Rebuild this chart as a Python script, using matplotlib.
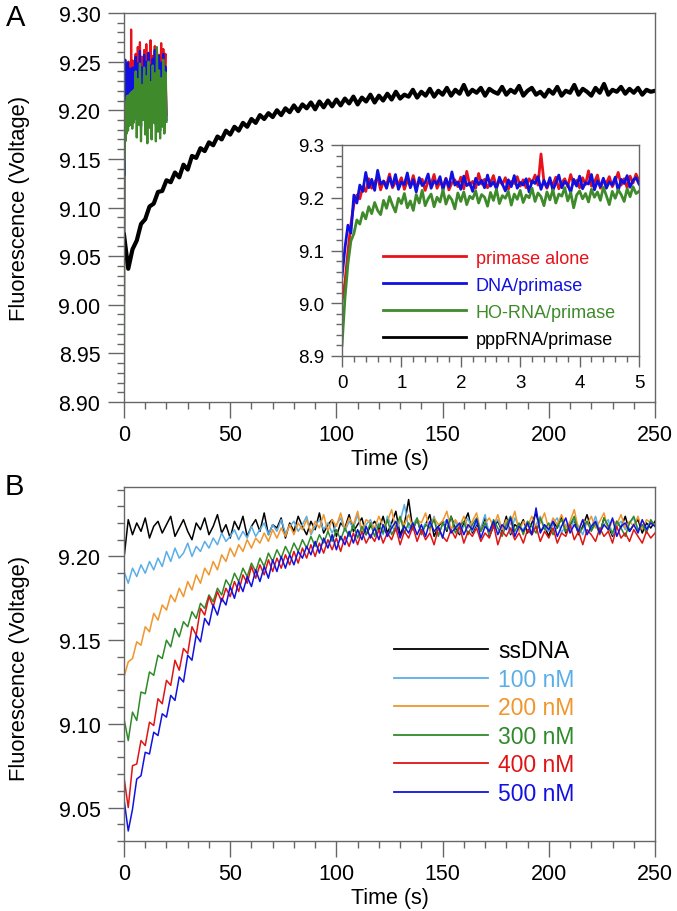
import numpy as np
import matplotlib
matplotlib.use('Agg')
import matplotlib.pyplot as plt
from matplotlib.lines import Line2D
from matplotlib.ticker import MultipleLocator, FormatStrFormatter

plt.rcParams['font.family'] = ['Liberation Sans', 'DejaVu Sans']

# time bases (s)
t_slow = np.arange(0, 251, 2)
t_fast = np.round(np.arange(0, 5.001, 0.05), 2)
t_tail = np.arange(5.5, 20.01, 0.5)

# ---- panel A ----
ppp_rna = [
    9.072, 9.037, 9.057, 9.066, 9.083, 9.088, 9.101, 9.104, 9.116, 9.117,
    9.128, 9.126, 9.136, 9.131, 9.144, 9.139, 9.153, 9.151, 9.161, 9.158,
    9.167, 9.164, 9.173, 9.170, 9.179, 9.175, 9.183, 9.179, 9.187, 9.183,
    9.191, 9.187, 9.195, 9.191, 9.197, 9.193, 9.200, 9.195, 9.202, 9.198,
    9.205, 9.199, 9.206, 9.202, 9.208, 9.201, 9.209, 9.203, 9.210, 9.204,
    9.211, 9.205, 9.212, 9.207, 9.214, 9.206, 9.213, 9.209, 9.216, 9.208,
    9.215, 9.210, 9.217, 9.211, 9.219, 9.212, 9.216, 9.214, 9.221, 9.213,
    9.219, 9.215, 9.222, 9.214, 9.220, 9.216, 9.223, 9.215, 9.221, 9.217,
    9.226, 9.216, 9.221, 9.218, 9.223, 9.215, 9.222, 9.219, 9.217, 9.224,
    9.216, 9.221, 9.218, 9.225, 9.215, 9.220, 9.223, 9.216, 9.219, 9.214,
    9.221, 9.217, 9.224, 9.215, 9.220, 9.218, 9.226, 9.216, 9.222, 9.219,
    9.215, 9.223, 9.218, 9.227, 9.216, 9.221, 9.219, 9.224, 9.217, 9.222,
    9.218, 9.223, 9.216, 9.221, 9.219, 9.220]

primase_alone_fast = [
    9.003, 9.040, 9.098, 9.150, 9.188, 9.205, 9.198, 9.221, 9.212, 9.236,
    9.218, 9.229, 9.240, 9.215, 9.232, 9.224, 9.245, 9.219, 9.230, 9.226,
    9.238, 9.216, 9.233, 9.222, 9.242, 9.220, 9.229, 9.235, 9.214, 9.231,
    9.225, 9.244, 9.218, 9.230, 9.222, 9.237, 9.215, 9.228, 9.234, 9.221,
    9.239, 9.217, 9.250, 9.224, 9.231, 9.218, 9.246, 9.226, 9.235, 9.219,
    9.229, 9.242, 9.220, 9.233, 9.225, 9.238, 9.216, 9.231, 9.227, 9.240,
    9.222, 9.234, 9.219, 9.236, 9.228, 9.243, 9.224, 9.283, 9.230, 9.218,
    9.232, 9.225, 9.239, 9.217, 9.229, 9.236, 9.221, 9.244, 9.226, 9.233,
    9.219, 9.238, 9.225, 9.251, 9.222, 9.230, 9.243, 9.218, 9.234, 9.227,
    9.240, 9.221, 9.232, 9.248, 9.224, 9.236, 9.219, 9.241, 9.228, 9.245,
    9.232]
primase_alone_tail = [
    9.258, 9.212, 9.265, 9.225, 9.270, 9.205, 9.255, 9.230, 9.262, 9.215,
    9.268, 9.208, 9.259, 9.236, 9.272, 9.210, 9.256, 9.222, 9.266, 9.203,
    9.261, 9.228, 9.257, 9.214, 9.269, 9.206, 9.263, 9.233, 9.258, 9.195]

dna_primase_fast = [
    9.050, 9.105, 9.148, 9.133, 9.205, 9.190, 9.224, 9.212, 9.248, 9.219,
    9.235, 9.214, 9.252, 9.226, 9.231, 9.218, 9.239, 9.222, 9.244, 9.216,
    9.230, 9.225, 9.247, 9.219, 9.234, 9.211, 9.238, 9.223, 9.229, 9.245,
    9.218, 9.232, 9.226, 9.240, 9.215, 9.236, 9.221, 9.249, 9.224, 9.230,
    9.216, 9.241, 9.223, 9.228, 9.212, 9.237, 9.225, 9.233, 9.219, 9.243,
    9.222, 9.230, 9.217, 9.239, 9.226, 9.213, 9.234, 9.221, 9.242, 9.218,
    9.229, 9.224, 9.236, 9.211, 9.232, 9.227, 9.240, 9.216, 9.233, 9.220,
    9.238, 9.214, 9.228, 9.243, 9.219, 9.231, 9.225, 9.210, 9.235, 9.222,
    9.241, 9.217, 9.229, 9.226, 9.244, 9.215, 9.232, 9.221, 9.237, 9.218,
    9.230, 9.224, 9.239, 9.213, 9.235, 9.227, 9.242, 9.220, 9.233, 9.238,
    9.226]
dna_primase_tail = [
    9.255, 9.190, 9.248, 9.202, 9.261, 9.183, 9.244, 9.196, 9.257, 9.178,
    9.250, 9.205, 9.259, 9.188, 9.246, 9.176, 9.253, 9.199, 9.262, 9.185,
    9.241, 9.193, 9.256, 9.179, 9.249, 9.203, 9.258, 9.184, 9.245, 9.190]

ho_rna_primase_fast = [
    8.920, 9.010, 9.075, 9.118, 9.132, 9.158, 9.150, 9.172, 9.160, 9.183,
    9.170, 9.191, 9.176, 9.168, 9.195, 9.180, 9.202, 9.186, 9.173, 9.199,
    9.189, 9.208, 9.181, 9.194, 9.176, 9.206, 9.190, 9.214, 9.185, 9.198,
    9.207, 9.183, 9.201, 9.192, 9.215, 9.188, 9.204, 9.196, 9.179, 9.209,
    9.193, 9.211, 9.187, 9.203, 9.198, 9.213, 9.190, 9.206, 9.201, 9.184,
    9.210, 9.195, 9.216, 9.189, 9.204, 9.199, 9.212, 9.186, 9.207, 9.197,
    9.214, 9.191, 9.205, 9.200, 9.218, 9.193, 9.209, 9.202, 9.185, 9.211,
    9.196, 9.215, 9.190, 9.207, 9.203, 9.219, 9.194, 9.210, 9.181, 9.205,
    9.213, 9.198, 9.208, 9.192, 9.216, 9.201, 9.211, 9.195, 9.220, 9.204,
    9.187, 9.212, 9.199, 9.215, 9.206, 9.193, 9.217, 9.202, 9.221, 9.208,
    9.212]
ho_rna_primase_tail = [
    9.240, 9.172, 9.232, 9.185, 9.248, 9.168, 9.226, 9.190, 9.244, 9.175,
    9.235, 9.166, 9.250, 9.182, 9.229, 9.170, 9.246, 9.187, 9.238, 9.168,
    9.265, 9.178, 9.241, 9.171, 9.233, 9.183, 9.252, 9.176, 9.239, 9.188]

labels_a = ['primase alone', 'DNA/primase', 'HO-RNA/primase', 'pppRNA/primase']
colors_a = ['#e8121a', '#1010e0', '#3f8a2a', '#000000']

# ---- panel B ----
ssdna = [
    9.199, 9.222, 9.213, 9.220, 9.215, 9.223, 9.211, 9.218, 9.221, 9.214,
    9.219, 9.224, 9.212, 9.217, 9.222, 9.215, 9.210, 9.220, 9.216, 9.223,
    9.213, 9.218, 9.225, 9.214, 9.219, 9.211, 9.221, 9.216, 9.224, 9.212,
    9.218, 9.222, 9.215, 9.226, 9.213, 9.219, 9.217, 9.223, 9.211, 9.220,
    9.215, 9.224, 9.218, 9.213, 9.221, 9.216, 9.226, 9.214, 9.219, 9.222,
    9.212, 9.220, 9.217, 9.225, 9.215, 9.219, 9.223, 9.213, 9.218, 9.221,
    9.216, 9.224, 9.214, 9.220, 9.227, 9.213, 9.219, 9.234, 9.216, 9.222,
    9.214, 9.219, 9.225, 9.212, 9.218, 9.221, 9.215, 9.224, 9.217, 9.213,
    9.220, 9.226, 9.214, 9.219, 9.216, 9.223, 9.212, 9.218, 9.221, 9.215,
    9.224, 9.213, 9.219, 9.217, 9.222, 9.214, 9.220, 9.226, 9.215, 9.218,
    9.212, 9.221, 9.217, 9.224, 9.214, 9.219, 9.222, 9.213, 9.218, 9.225,
    9.216, 9.220, 9.214, 9.223, 9.218, 9.212, 9.221, 9.217, 9.224, 9.215,
    9.219, 9.222, 9.214, 9.220, 9.217, 9.221]

nm100 = [
    9.191, 9.184, 9.193, 9.188, 9.195, 9.190, 9.197, 9.192, 9.199, 9.194,
    9.203, 9.197, 9.205, 9.199, 9.202, 9.208, 9.200, 9.206, 9.203, 9.209,
    9.205, 9.211, 9.207, 9.214, 9.209, 9.212, 9.216, 9.210, 9.215, 9.211,
    9.218, 9.212, 9.216, 9.220, 9.213, 9.219, 9.215, 9.222, 9.214, 9.218,
    9.221, 9.215, 9.219, 9.224, 9.213, 9.218, 9.222, 9.216, 9.220, 9.214,
    9.219, 9.223, 9.215, 9.221, 9.217, 9.225, 9.214, 9.219, 9.222, 9.216,
    9.220, 9.213, 9.224, 9.218, 9.215, 9.221, 9.231, 9.217, 9.219, 9.223,
    9.215, 9.220, 9.217, 9.224, 9.213, 9.219, 9.222, 9.216, 9.221, 9.214,
    9.218, 9.223, 9.215, 9.220, 9.217, 9.225, 9.213, 9.219, 9.222, 9.216,
    9.220, 9.214, 9.223, 9.218, 9.216, 9.221, 9.213, 9.219, 9.224, 9.217,
    9.215, 9.220, 9.223, 9.214, 9.219, 9.216, 9.222, 9.218, 9.213, 9.221,
    9.217, 9.224, 9.215, 9.219, 9.222, 9.213, 9.218, 9.221, 9.216, 9.220,
    9.223, 9.215, 9.219, 9.217, 9.221, 9.218]

nm200 = [
    9.128, 9.137, 9.139, 9.149, 9.147, 9.158, 9.155, 9.166, 9.162, 9.171,
    9.168, 9.177, 9.173, 9.181, 9.176, 9.185, 9.180, 9.189, 9.184, 9.193,
    9.189, 9.197, 9.192, 9.201, 9.197, 9.205, 9.200, 9.207, 9.203, 9.210,
    9.205, 9.211, 9.208, 9.214, 9.209, 9.216, 9.211, 9.217, 9.212, 9.219,
    9.213, 9.220, 9.216, 9.222, 9.214, 9.221, 9.217, 9.225, 9.215, 9.222,
    9.218, 9.226, 9.216, 9.223, 9.219, 9.227, 9.215, 9.222, 9.220, 9.217,
    9.224, 9.218, 9.221, 9.228, 9.216, 9.223, 9.219, 9.225, 9.217, 9.222,
    9.220, 9.226, 9.215, 9.223, 9.219, 9.221, 9.227, 9.216, 9.222, 9.218,
    9.224, 9.217, 9.221, 9.226, 9.215, 9.220, 9.223, 9.218, 9.225, 9.216,
    9.222, 9.219, 9.227, 9.215, 9.221, 9.218, 9.224, 9.217, 9.220, 9.226,
    9.216, 9.223, 9.219, 9.225, 9.217, 9.221, 9.228, 9.216, 9.222, 9.219,
    9.224, 9.217, 9.221, 9.226, 9.215, 9.222, 9.219, 9.225, 9.217, 9.221,
    9.218, 9.224, 9.216, 9.222, 9.220, 9.219]

nm300 = [
    9.103, 9.090, 9.107, 9.102, 9.119, 9.118, 9.131, 9.129, 9.141, 9.139,
    9.150, 9.146, 9.157, 9.152, 9.161, 9.158, 9.167, 9.163, 9.172, 9.169,
    9.177, 9.173, 9.181, 9.177, 9.186, 9.182, 9.190, 9.185, 9.193, 9.188,
    9.196, 9.191, 9.199, 9.194, 9.202, 9.197, 9.204, 9.199, 9.206, 9.201,
    9.208, 9.203, 9.210, 9.205, 9.212, 9.206, 9.213, 9.208, 9.215, 9.209,
    9.216, 9.210, 9.217, 9.212, 9.219, 9.211, 9.218, 9.213, 9.220, 9.212,
    9.219, 9.214, 9.222, 9.213, 9.218, 9.224, 9.214, 9.220, 9.216, 9.223,
    9.213, 9.219, 9.217, 9.222, 9.212, 9.220, 9.216, 9.224, 9.214, 9.218,
    9.221, 9.213, 9.219, 9.223, 9.215, 9.220, 9.214, 9.222, 9.217, 9.212,
    9.219, 9.224, 9.215, 9.220, 9.213, 9.221, 9.218, 9.214, 9.223, 9.216,
    9.220, 9.213, 9.218, 9.222, 9.215, 9.219, 9.224, 9.214, 9.217, 9.221,
    9.215, 9.220, 9.213, 9.223, 9.218, 9.214, 9.221, 9.217, 9.212, 9.220,
    9.224, 9.216, 9.219, 9.214, 9.222, 9.218]

nm400 = [
    9.068, 9.050, 9.075, 9.076, 9.090, 9.087, 9.101, 9.099, 9.115, 9.112,
    9.126, 9.123, 9.138, 9.132, 9.145, 9.142, 9.158, 9.153, 9.169, 9.165,
    9.176, 9.170, 9.179, 9.173, 9.181, 9.176, 9.185, 9.179, 9.189, 9.184,
    9.194, 9.187, 9.195, 9.189, 9.198, 9.191, 9.199, 9.193, 9.201, 9.195,
    9.203, 9.196, 9.205, 9.199, 9.207, 9.200, 9.208, 9.202, 9.210, 9.204,
    9.211, 9.203, 9.212, 9.206, 9.214, 9.207, 9.215, 9.208, 9.213, 9.209,
    9.216, 9.208, 9.214, 9.210, 9.217, 9.207, 9.215, 9.211, 9.218, 9.209,
    9.216, 9.210, 9.214, 9.207, 9.217, 9.212, 9.209, 9.216, 9.211, 9.218,
    9.208, 9.215, 9.212, 9.217, 9.209, 9.214, 9.211, 9.219, 9.207, 9.215,
    9.212, 9.217, 9.210, 9.214, 9.208, 9.216, 9.213, 9.218, 9.209, 9.215,
    9.211, 9.217, 9.208, 9.214, 9.212, 9.219, 9.210, 9.215, 9.207, 9.216,
    9.213, 9.209, 9.217, 9.212, 9.215, 9.208, 9.218, 9.211, 9.214, 9.209,
    9.216, 9.212, 9.208, 9.215, 9.211, 9.214]

nm500 = [
    9.055, 9.036, 9.049, 9.067, 9.069, 9.083, 9.082, 9.095, 9.093, 9.106,
    9.104, 9.117, 9.114, 9.128, 9.125, 9.141, 9.138, 9.153, 9.149, 9.163,
    9.159, 9.171, 9.165, 9.175, 9.171, 9.182, 9.175, 9.185, 9.179, 9.188,
    9.182, 9.192, 9.185, 9.194, 9.187, 9.198, 9.191, 9.200, 9.193, 9.201,
    9.195, 9.203, 9.199, 9.206, 9.201, 9.209, 9.202, 9.211, 9.205, 9.213,
    9.204, 9.212, 9.207, 9.215, 9.208, 9.216, 9.210, 9.218, 9.211, 9.217,
    9.210, 9.219, 9.212, 9.217, 9.221, 9.211, 9.218, 9.214, 9.220, 9.213,
    9.219, 9.212, 9.221, 9.215, 9.218, 9.211, 9.222, 9.214, 9.217, 9.220,
    9.213, 9.219, 9.216, 9.222, 9.211, 9.218, 9.215, 9.221, 9.213, 9.219,
    9.216, 9.223, 9.212, 9.218, 9.215, 9.220, 9.213, 9.229, 9.214, 9.219,
    9.216, 9.221, 9.212, 9.218, 9.223, 9.214, 9.219, 9.215, 9.222, 9.213,
    9.218, 9.221, 9.214, 9.219, 9.216, 9.223, 9.212, 9.218, 9.220, 9.215,
    9.219, 9.214, 9.222, 9.216, 9.220, 9.218]

labels_b = ['ssDNA', '100 nM', '200 nM', '300 nM', '400 nM', '500 nM']
colors_b = ['#000000', '#5aaee8', '#f0962c', '#2f8a2a', '#e01414', '#1212e0']

spine_col = '#666666'


def style_axes(ax, major_len, minor_len, labelsize, xpad, ypad):
    for s in ax.spines.values():
        s.set_color(spine_col)
        s.set_linewidth(1.0)
    ax.tick_params(which='both', direction='out', top=False, right=False,
                   color=spine_col, width=1.0, labelsize=labelsize)
    ax.tick_params(which='major', length=major_len)
    ax.tick_params(which='minor', length=minor_len)
    ax.tick_params(axis='x', which='major', pad=xpad)
    ax.tick_params(axis='y', which='major', pad=ypad)


fig = plt.figure(figsize=(6.77, 9.12), dpi=100)
W, H = 677.0, 912.0

# panel A main
axA = fig.add_axes([124 / W, 1 - 403 / H, 531 / W, 389 / H])
red_a = primase_alone_fast + primase_alone_tail
blue_a = dna_primase_fast + dna_primase_tail
green_a = ho_rna_primase_fast + ho_rna_primase_tail
t_col = np.concatenate([t_fast, t_tail])
for vals, c in zip([red_a, blue_a, green_a], colors_a[:3]):
    axA.plot(t_col, vals, color=c, lw=1.6)
axA.plot(t_slow, ppp_rna, color='k', lw=3.0)
axA.set_xlim(0, 250)
axA.set_ylim(8.90, 9.30)
axA.xaxis.set_major_locator(MultipleLocator(50))
axA.xaxis.set_minor_locator(MultipleLocator(10))
axA.yaxis.set_major_locator(MultipleLocator(0.05))
axA.yaxis.set_minor_locator(MultipleLocator(0.01))
axA.yaxis.set_major_formatter(FormatStrFormatter('%.2f'))
style_axes(axA, 11.5, 5, 15.5, 4.5, 5.5)
axA.set_xlabel('Time (s)', fontsize=15.5, labelpad=2)

# panel A inset
axI = fig.add_axes([342 / W, 1 - 357 / H, 297 / W, 211 / H])
for vals, c in zip([primase_alone_fast, dna_primase_fast, ho_rna_primase_fast], colors_a[:3]):
    axI.plot(t_fast, vals, color=c, lw=2.0)
axI.set_xlim(0, 5)
axI.set_ylim(8.9, 9.3)
axI.xaxis.set_major_locator(MultipleLocator(1))
axI.xaxis.set_minor_locator(MultipleLocator(0.2))
axI.yaxis.set_major_locator(MultipleLocator(0.1))
axI.yaxis.set_minor_locator(MultipleLocator(0.02))
axI.yaxis.set_major_formatter(FormatStrFormatter('%.1f'))
style_axes(axI, 8, 4, 13.5, 5, 5)
handles = [Line2D([], [], color=c, lw=2.0) for c in colors_a]
axI.legend(handles, labels_a, loc='center left', bbox_to_anchor=(0.138, 0.272),
           frameon=False, fontsize=13, handlelength=4.6, handletextpad=0.55,
           labelspacing=0.55, borderpad=0, borderaxespad=0, labelcolor='linecolor')

# panel B
axB = fig.add_axes([124 / W, 1 - 842 / H, 531 / W, 354 / H])
for vals, c in zip([ssdna, nm100, nm200, nm300, nm400, nm500], colors_b):
    axB.plot(t_slow, vals, color=c, lw=1.1)
axB.set_xlim(0, 250)
axB.set_ylim(9.03, 9.2415)
axB.xaxis.set_major_locator(MultipleLocator(50))
axB.xaxis.set_minor_locator(MultipleLocator(10))
axB.yaxis.set_major_locator(MultipleLocator(0.05))
axB.yaxis.set_minor_locator(MultipleLocator(0.01))
axB.yaxis.set_major_formatter(FormatStrFormatter('%.2f'))
style_axes(axB, 11.5, 5, 15.5, 4.5, 5.5)
axB.set_xlabel('Time (s)', fontsize=15.5, labelpad=2)
handles_b = [Line2D([], [], color=c, lw=1.3) for c in colors_b]
axB.legend(handles_b, labels_b, loc='center left', bbox_to_anchor=(0.508, 0.336),
           frameon=False, fontsize=16.5, handlelength=4.1, handletextpad=0.45,
           labelspacing=0.24, borderpad=0, borderaxespad=0, labelcolor='linecolor')

# y labels and panel letters
fig.text(20 / W, 1 - 208 / H, 'Fluorescence (Voltage)', rotation=90,
         ha='center', va='center', fontsize=15.8)
fig.text(20 / W, 1 - 668 / H, 'Fluorescence (Voltage)', rotation=90,
         ha='center', va='center', fontsize=15.8)
fig.text(6 / W, 1 - 18 / H, 'A', ha='left', va='center', fontsize=21)
fig.text(5 / W, 1 - 487 / H, 'B', ha='left', va='center', fontsize=21)

fig.savefig('out.png', dpi=100, facecolor='white')
